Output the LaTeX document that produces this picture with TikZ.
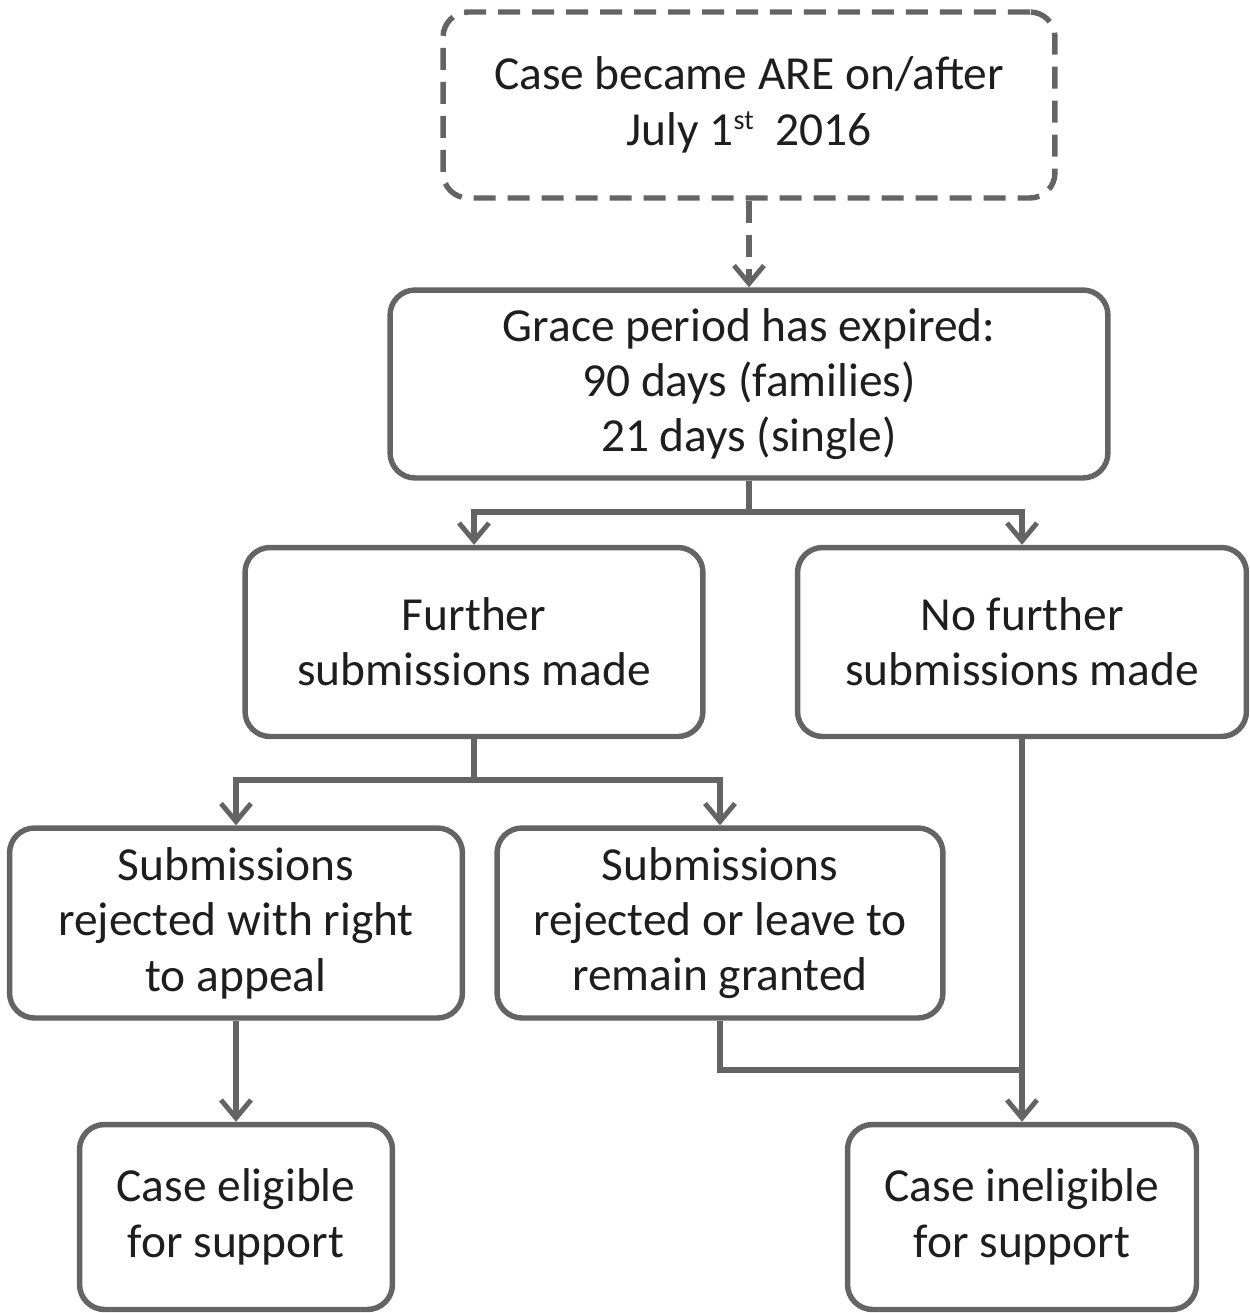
\documentclass[tikz,border=0pt]{standalone}
\usepackage{fontspec}
\setmainfont{Carlito}
\usetikzlibrary{arrows.meta}
\definecolor{linegray}{HTML}{646464}
\definecolor{textgray}{HTML}{1E1E1E}
\tikzset{
  flowbox/.style={draw=linegray, line width=3.1pt, rounded corners=0.5cm, fill=white,
    align=center, text=textgray, inner sep=0pt,
    font=\fontsize{27}{31.5}\selectfont},
  dashbox/.style={flowbox, dash pattern=on 0.44cm off 0.24cm},
  conn/.style={draw=linegray, line width=3.1pt},
  arr/.style={conn, -{Straight Barb[length=0.36cm, width=0.6cm, line width=2.8pt]}},
}
\newcommand{\ordsup}[1]{\raisebox{0.33em}{\fontsize{16}{16}\selectfont #1}}
\begin{document}
\begin{tikzpicture}[x=0.02cm, y=-0.02cm]
\useasboundingbox (0,0) rectangle (1250,1313);
\node[dashbox, minimum width=12.24cm, minimum height=3.72cm] (a) at (749,105)
  {Case became ARE on/after\\July 1\ordsup{st}\ \ 2016};
\node[flowbox, minimum width=14.36cm, minimum height=3.76cm] (b) at (749,384)
  {Grace period has expired:\\90 days (families)\\21 days (single)};
\node[flowbox, minimum width=9.16cm, minimum height=3.78cm] (c) at (474,642)
  {Further\\submissions made};
\node[flowbox, minimum width=8.98cm, minimum height=3.78cm] (d) at (1022,642)
  {No further\\submissions made};
\node[flowbox, minimum width=9.06cm, minimum height=3.8cm] (e) at (236,923)
  {Submissions\\rejected with right\\to appeal};
\node[flowbox, minimum width=8.92cm, minimum height=3.8cm] (f) at (720,923)
  {Submissions\\rejected or leave to\\remain granted};
\node[flowbox, minimum width=6.26cm, minimum height=3.7cm] (g) at (236,1217)
  {Case eligible\\for support};
\node[flowbox, minimum width=6.98cm, minimum height=3.7cm] (h) at (1022,1217)
  {Case ineligible\\for support};

\coordinate (bsplit) at (749,512);
\coordinate (csplit) at (474,780);
\coordinate (join) at (1022,1070);

\draw[arr, dash pattern=on 0.44cm off 0.24cm] (a.south) -- (b.north);
\draw[conn] (b.south) -- (bsplit);
\draw[arr] (bsplit) -| (c.north);
\draw[arr] (bsplit) -| (d.north);
\draw[conn] (c.south) -- (csplit);
\draw[arr] (csplit) -| (e.north);
\draw[arr] (csplit) -| (f.north);
\draw[arr] (e.south) -- (g.north);
\draw[arr] (d.south) -- (h.north);
\draw[conn] (f.south) |- (join);
\end{tikzpicture}
\end{document}
